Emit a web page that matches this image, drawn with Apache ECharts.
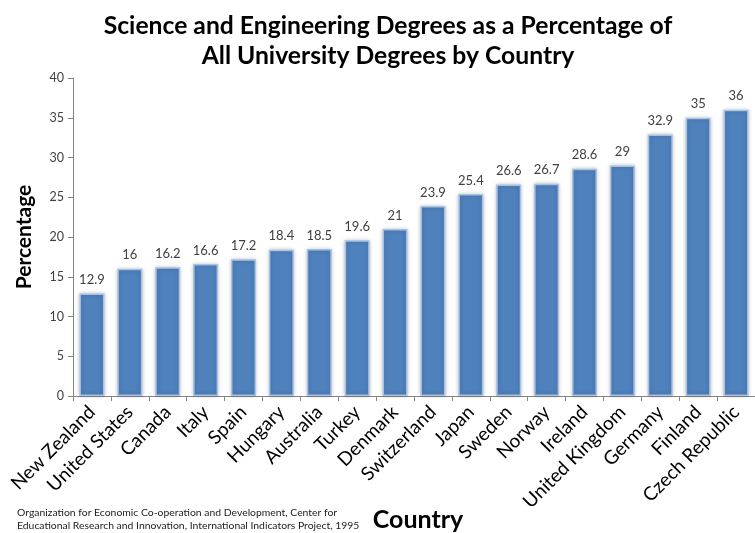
<!DOCTYPE html>
<html>
<head>
<meta charset="utf-8">
<script src="https://cdn.jsdelivr.net/npm/echarts@6/dist/echarts.min.js"></script>
<style>html,body{margin:0;padding:0;background:#fff}#c{width:755px;height:533px}</style>
</head>
<body>
<div id="c"></div>
<script>
const categories = ["New Zealand","United States","Canada","Italy","Spain","Hungary","Australia","Turkey","Denmark","Switzerland","Japan","Sweden","Norway","Ireland","United Kingdom","Germany","Finland","Czech Republic"];
const values = [12.9,16,16.2,16.6,17.2,18.4,18.5,19.6,21,23.9,25.4,26.6,26.7,28.6,29,32.9,35,36];
const yTicks = [0,5,10,15,20,25,30,35,40];
const titleLines = ["Science and Engineering Degrees as a Percentage of","All University Degrees by Country"];
const sourceLines = ["Organization for Economic Co-operation and Development, Center for","Educational Research and Innovation, International Indicators Project, 1995"];

const chart = echarts.init(document.getElementById('c'));
chart.setOption({
  animation: false,
  title: {
    text: titleLines.join('\n'),
    left: 383, top: 6, textAlign: 'center',
    textStyle: {fontFamily: 'Lato', fontWeight: 'bold', fontSize: 24.7, lineHeight: 30, color: '#000'}
  },
  graphic: [{
    type: 'text', left: 17, top: 506,
    style: {text: sourceLines.join('\n'), font: '10.4px Lato', lineHeight: 13, fill: '#222'}
  }],
  grid: {left: 73, right: 0, top: 78, bottom: 137, containLabel: false, outerBoundsMode: 'none'},
  xAxis: {
    type: 'category', data: categories,
    name: 'Country', nameLocation: 'middle', nameGap: 111, nameMoveOverlap: false,
    nameTextStyle: {fontFamily: 'Lato', fontWeight: 'bold', fontSize: 25, color: '#000', verticalAlign: 'top', padding: [0,0,0,8]},
    axisLine: {lineStyle: {color: '#868686'}},
    axisTick: {show: true, length: 5, lineStyle: {color: '#868686'}},
    axisLabel: {rotate: 45, interval: 0, fontFamily: 'Lato', fontSize: 19, color: '#000', margin: 13}
  },
  yAxis: {
    type: 'value', min: 0, max: 40, interval: 5,
    name: 'Percentage', nameLocation: 'middle', nameGap: 38, nameMoveOverlap: false,
    nameTextStyle: {fontFamily: 'Lato', fontWeight: 'bold', fontSize: 21, color: '#000'},
    axisLine: {show: true, lineStyle: {color: '#868686'}},
    axisTick: {show: true, length: 5, lineStyle: {color: '#868686'}},
    splitLine: {show: false},
    axisLabel: {fontFamily: 'Lato', fontSize: 12.5, color: '#404040', margin: 9,
      formatter: v => yTicks.includes(v) ? String(v) : ''}
  },
  series: [{
    type: 'bar', data: values, barWidth: 25,
    itemStyle: {color: '#4F81BD', borderColor: '#a8c2e2', borderWidth: 1.5,
      shadowColor: 'rgba(0,0,0,0.22)', shadowBlur: 4, shadowOffsetX: 0, shadowOffsetY: 0},
    label: {show: true, position: 'top', distance: 7, fontFamily: 'Lato', fontSize: 13, color: '#404040'}
  }]
});
</script>
</body>
</html>
